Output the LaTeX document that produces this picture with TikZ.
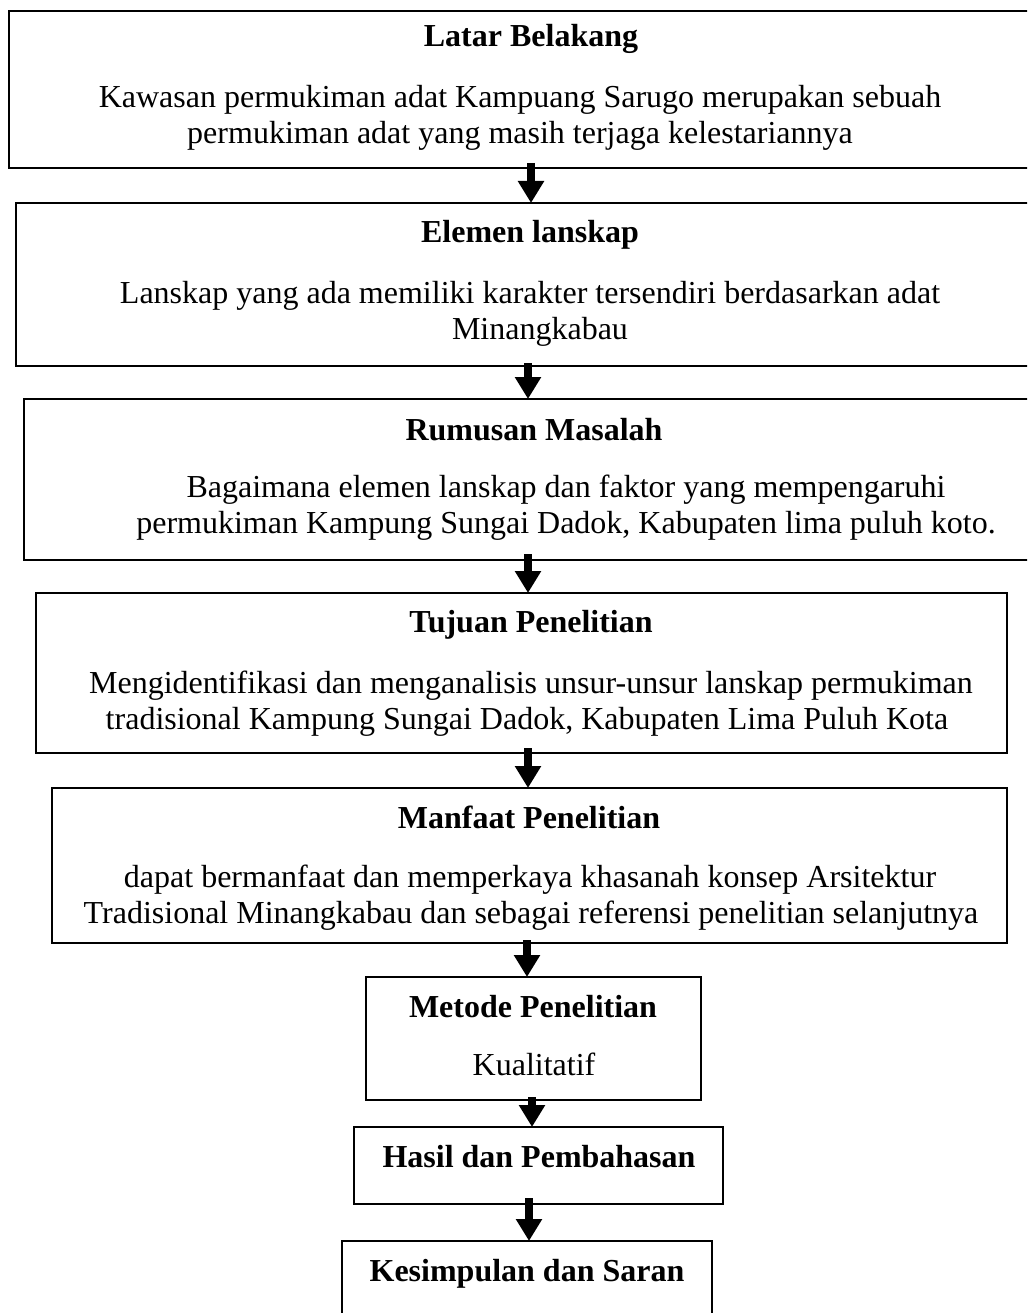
\documentclass[tikz,border=0pt]{standalone}
\usepackage{fontspec}
\setmainfont{Liberation Serif}
\usetikzlibrary{arrows.meta}
\begin{document}
\begin{tikzpicture}[x=1pt,y=-1pt,
  boxst/.style={draw=black,line width=2.4pt,fill=none,inner sep=0pt,outer sep=0pt,rectangle},
  ttl/.style={anchor=base,inner sep=0pt,font=\fontsize{32}{36}\selectfont\bfseries},
  txt/.style={anchor=base,inner sep=0pt,font=\fontsize{32}{36}\selectfont},
  arr/.style={line width=8pt,-{Triangle[length=22pt,width=25pt]}}]
\clip (0,0) rectangle (1027,1313);
\fill[white] (0,0) rectangle (1027,1313);
% boxes
\node[boxst,minimum width=1041pt,minimum height=157pt] (b1) at (529.5,89.5) {};
\node[boxst,minimum width=1034pt,minimum height=163pt] (b2) at (533,284.5) {};
\node[boxst,minimum width=1026pt,minimum height=161pt] (b3) at (537,479.5) {};
\node[boxst,minimum width=971pt,minimum height=160pt] (b4) at (521.5,673) {};
\node[boxst,minimum width=955pt,minimum height=155pt] (b5) at (529.5,865.5) {};
\node[boxst,minimum width=335pt,minimum height=123pt] (b6) at (533.5,1038.5) {};
\node[boxst,minimum width=369pt,minimum height=77pt] (b7) at (538.5,1165.5) {};
\node[boxst,minimum width=370pt,minimum height=110pt] (b8) at (527,1296) {};
% texts
\node[ttl] (t1) at (531,47) {Latar Belakang};
\node[txt] (t1a) at (520,108) {Kawasan permukiman adat Kampuang Sarugo merupakan sebuah};
\node[txt] (t1b) at (520,144) {permukiman adat yang masih terjaga kelestariannya};
\node[ttl] (t2) at (530,243) {Elemen lanskap};
\node[txt] (t2a) at (530,303) {Lanskap yang ada memiliki karakter tersendiri berdasarkan adat};
\node[txt] (t2b) at (540,339) {Minangkabau};
\node[ttl] (t3) at (534,440) {Rumusan Masalah};
\node[txt] (t3a) at (566,497) {Bagaimana elemen lanskap dan faktor yang mempengaruhi};
\node[txt] (t3b) at (566,533) {permukiman Kampung Sungai Dadok, Kabupaten lima puluh koto.};
\node[ttl] (t4) at (531,632) {Tujuan Penelitian};
\node[txt] (t4a) at (531,693) {Mengidentifikasi dan menganalisis unsur-unsur lanskap permukiman};
\node[txt] (t4b) at (527,729) {tradisional Kampung Sungai Dadok, Kabupaten Lima Puluh Kota};
\node[ttl] (t5) at (529,828) {Manfaat Penelitian};
\node[txt] (t5a) at (530,887) {dapat bermanfaat dan memperkaya khasanah konsep Arsitektur};
\node[txt] (t5b) at (531,923) {Tradisional Minangkabau dan sebagai referensi penelitian selanjutnya};
\node[ttl] (t6) at (533,1017) {Metode Penelitian};
\node[txt] (t6a) at (534,1075) {Kualitatif};
\node[ttl] (t7) at (539,1167) {Hasil dan Pembahasan};
\node[ttl] (t8) at (527,1281) {Kesimpulan dan Saran};
% arrows
\draw[arr] ([yshift=5pt]b1.south -| 531,0) -- (b2.north -| 531,0);
\draw[arr] ([yshift=3pt]b2.south -| 528,0) -- (b3.north -| 528,0);
\draw[arr] ([yshift=6pt]b3.south -| 528,0) -- (b4.north -| 528,0);
\draw[arr] ([yshift=5pt]b4.south -| 528,0) -- (b5.north -| 528,0);
\draw[arr] ([yshift=3pt]b5.south -| 527,0) -- (b6.north -| 527,0);
\draw[arr] ([yshift=3pt]b6.south -| 532,0) -- (b7.north -| 532,0);
\draw[arr] ([yshift=6pt]b7.south -| 529,0) -- (b8.north -| 529,0);
\end{tikzpicture}
\end{document}
